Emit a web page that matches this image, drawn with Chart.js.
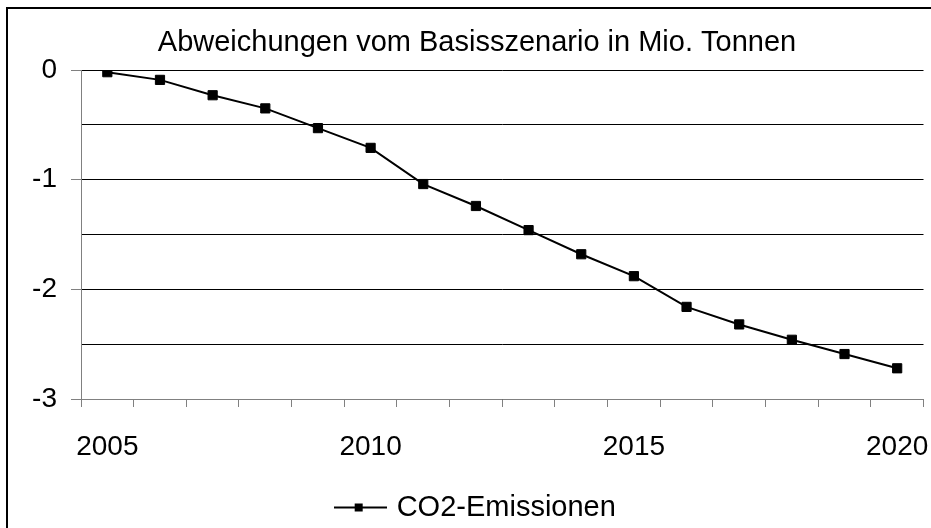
<!DOCTYPE html>
<html>
<head>
<meta charset="utf-8">
<script src="https://cdn.jsdelivr.net/npm/chart.js@4"></script>
<style>
  html, body { margin: 0; padding: 0; background: #fff; }
  #wrap { width: 931px; height: 528px; position: relative; }
</style>
</head>
<body>
<div id="wrap"><canvas id="chart" width="931" height="528"></canvas></div>
<script>
// Jahre und Abweichungen (Mio. t)
const years = ['2005', '2006', '2007', '2008', '2009', '2010', '2011', '2012',
  '2013', '2014', '2015', '2016', '2017', '2018', '2019', '2020'];
const co2 = [-0.02, -0.09, -0.23, -0.35, -0.53, -0.71, -1.04, -1.24,
  -1.46, -1.68, -1.88, -2.16, -2.32, -2.46, -2.59, -2.72];
const shownYears = ['2005', '2010', '2015', '2020'];
const yMajor = [0, -1, -2, -3];

const font = "'Liberation Sans', Arial, sans-serif";

// Legendensymbol: Linie mit Quadrat
const legendIcon = document.createElement('canvas');
legendIcon.width = 53;
legendIcon.height = 10;
{
  const c = legendIcon.getContext('2d');
  c.fillStyle = '#000';
  c.fillRect(0, 4, 53, 2);
  c.fillRect(21, 1, 8, 8);
}

// Rahmen um das ganze Diagramm
const frame = {
  id: 'frame',
  afterDraw(chart) {
    const { ctx } = chart;
    ctx.save();
    ctx.strokeStyle = '#000';
    ctx.lineWidth = 2;
    ctx.strokeRect(7, 8, 940, 540);
    ctx.restore();
  },
};

new Chart(document.getElementById('chart'), {
  type: 'line',
  data: {
    labels: years,
    datasets: [{
      label: 'CO2-Emissionen',
      data: co2,
      borderColor: '#000',
      backgroundColor: '#000',
      borderWidth: 2,
      pointStyle: 'rect',
      pointRadius: 6.5,
      pointBorderWidth: 1,
      tension: 0,
    }],
  },
  options: {
    responsive: false,
    animation: false,
    layout: { padding: { left: 30, right: 7, top: 0, bottom: -4 } },
    plugins: {
      title: {
        display: true,
        text: 'Abweichungen vom Basisszenario in Mio. Tonnen',
        color: '#000',
        font: { family: font, size: 29, weight: 'normal' },
        padding: { top: 26, bottom: 9.2 },
      },
      legend: {
        position: 'bottom',
        labels: {
          color: '#000',
          font: { family: font, size: 29 },
          usePointStyle: true,
          pointStyleWidth: 44,
          padding: 2,
          generateLabels: (chart) => chart.data.datasets.map((ds, i) => ({
            text: ds.label,
            datasetIndex: i,
            pointStyle: legendIcon,
            fontColor: '#000',
            lineWidth: 0,
          })),
        },
      },
      tooltip: { enabled: false },
    },
    scales: {
      x: {
        offset: true,
        grid: {
          offset: true,
          drawOnChartArea: false,
          drawTicks: true,
          tickLength: 8,
          color: '#808080',
        },
        border: { color: '#808080', width: 1 },
        ticks: {
          autoSkip: false,
          maxRotation: 0,
          color: '#000',
          padding: 23,
          font: { family: font, size: 28 },
          callback: (v, i) => (shownYears.includes(years[i]) ? years[i] : ''),
        },
        afterFit: (s) => {
          s.height = 92;
          s.paddingLeft = 0;
          s.paddingRight = 0;
        },
      },
      y: {
        min: -3,
        max: 0,
        ticks: {
          stepSize: 0.5,
          color: '#000',
          padding: 14,
          font: { family: font, size: 28 },
          callback: (v) => (yMajor.includes(v) ? String(v) : ''),
        },
        grid: {
          color: '#000',
          tickLength: 10,
          tickColor: (c) => (yMajor.includes(c.tick.value) ? '#808080' : 'rgba(0,0,0,0)'),
        },
        border: { color: '#808080', width: 1 },
        afterFit: (s) => { s.width = 51; },
      },
    },
  },
  plugins: [frame],
});
</script>
</body>
</html>
